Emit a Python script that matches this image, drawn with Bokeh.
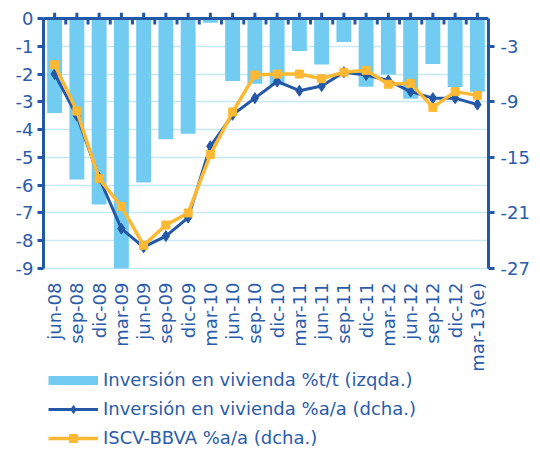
from math import pi
from bokeh.plotting import figure
from bokeh.models import (Range1d, LinearAxis, FixedTicker, Legend, LegendItem,
                          ColumnDataSource, Span)
from bokeh.core.properties import value
from bokeh.embed import file_html
from bokeh.resources import INLINE

categories = ["jun-08", "sep-08", "dic-08", "mar-09", "jun-09", "sep-09", "dic-09",
              "mar-10", "jun-10", "sep-10", "dic-10", "mar-11", "jun-11", "sep-11",
              "dic-11", "mar-12", "jun-12", "sep-12", "dic-12", "mar-13(e)"]
inv_tt = [-3.4, -5.8, -6.7, -9.0, -5.9, -4.35, -4.15, -0.15, -2.25, -2.35,
          -2.4, -1.17, -1.66, -0.85, -2.46, -2.02, -2.89, -1.64, -2.47, -2.64]
inv_aa = [-6.0, -10.5, -17.2, -22.7, -24.7, -23.5, -21.5, -13.8, -10.4, -8.6,
          -6.8, -7.8, -7.3, -5.8, -6.1, -6.7, -7.9, -8.6, -8.6, -9.3]
iscv = [-5.0, -10.0, -17.3, -20.3, -24.5, -22.3, -21.0, -14.7, -10.1, -6.1,
        -6.0, -6.0, -6.5, -5.8, -5.6, -7.1, -7.0, -9.6, -7.9, -8.3]
left_ticks = [0, -1, -2, -3, -4, -5, -6, -7, -8, -9]
right_ticks = [-3, -9, -15, -21, -27]
labels = ["Inversión en vivienda %t/t (izqda.)",
          "Inversión en vivienda %a/a (dcha.)",
          "ISCV-BBVA %a/a (dcha.)"]

BLUE = "#2458A6"
TEXT = "#2A5CAA"
BAR = "#72CCF2"
ORANGE = "#FDB933"
GRID = "#C8E8F6"
FONT = "DejaVu Sans"
FS = "18px"

n = len(categories)
pos = [i + 0.5 for i in range(n)]          # category centres
boundaries = list(range(0, n + 1))         # category edges

# layout: plot area 250px tall; the frame extends above (tick room) and below
# (labels + legend)
W, H, TOP = 532, 448, 12
PLOT_H = 250
TICK_PX = 6
lmin, rmin = left_ticks[-1], right_ticks[-1]
lmax = left_ticks[0]
px_per_unit = PLOT_H / (lmax - lmin)
FRAME_H = H - TOP
tick_u = TICK_PX / px_per_unit
y_hi = lmax + tick_u
y_lo = y_hi - FRAME_H / px_per_unit
ratio = rmin / lmin
r_hi, r_lo = y_hi * ratio, y_lo * ratio

src = ColumnDataSource(dict(x=pos, cat=categories, tt=inv_tt, aa=inv_aa, iscv=iscv,
                            base=[lmin] * n))
tick_src = ColumnDataSource(dict(x=pos, y0=[lmax] * n, y1=[lmax + tick_u] * n))
edge_src = ColumnDataSource(dict(x=boundaries, y0=[lmax] * (n + 1),
                                 y1=[lmax - tick_u] * (n + 1)))

p = figure(width=W, height=H, x_range=Range1d(0, n), y_range=Range1d(y_lo, y_hi),
           output_backend="svg", toolbar_location=None, x_axis_location=None,
           min_border_left=43, min_border_right=41, min_border_top=TOP,
           min_border_bottom=0)
p.outline_line_color = None
p.border_fill_color = "white"
p.background_fill_color = "white"
p.extra_y_ranges = {"right": Range1d(r_lo, r_hi)}

# grid
p.xgrid.grid_line_color = None
p.ygrid.ticker = FixedTicker(ticks=left_ticks)
p.ygrid.grid_line_color = GRID
p.ygrid.grid_line_width = 1.5

# left axis
ya = p.yaxis[0]
ya.bounds = (lmin, lmax)
ya.ticker = FixedTicker(ticks=left_ticks)
ya.major_label_overrides = {t: str(t) for t in left_ticks}
ya.axis_line_color = BLUE
ya.axis_line_width = 3
ya.major_tick_line_color = BLUE
ya.major_tick_line_width = 3
ya.major_tick_in = 0
ya.major_tick_out = 6
ya.minor_tick_line_color = None
ya.major_label_standoff = 4
ya.major_label_text_font = FONT
ya.major_label_text_font_size = FS
ya.major_label_text_color = TEXT

# right axis
ra = LinearAxis(y_range_name="right", bounds=(rmin, 0),
                ticker=FixedTicker(ticks=right_ticks),
                major_label_overrides={t: str(t) for t in right_ticks},
                axis_line_color=BLUE, axis_line_width=3,
                major_tick_line_color=BLUE, major_tick_line_width=3,
                major_tick_in=0, major_tick_out=6, minor_tick_line_color=None,
                major_label_standoff=6, major_label_text_font=FONT,
                major_label_text_font_size=FS, major_label_text_color=TEXT)
p.add_layout(ra, "right")

bars = p.vbar(x="x", top="tt", width=0.67, source=src, fill_color=BAR, line_color=None)

# horizontal category axis at zero, with crossing ticks
p.add_layout(Span(location=lmax, dimension="width", line_color=BLUE, line_width=3))
p.segment(x0="x", y0="y0", x1="x", y1="y1", source=tick_src, line_color=BLUE, line_width=3)
p.segment(x0="x", y0="y0", x1="x", y1="y1", source=edge_src, line_color=BLUE, line_width=3)

l1 = p.line("x", "aa", source=src, y_range_name="right", line_color=BLUE, line_width=3)
s1 = p.scatter("x", "aa", source=src, y_range_name="right", marker="diamond",
               size=11, fill_color=BLUE, line_color=BLUE)
l2 = p.line("x", "iscv", source=src, y_range_name="right", line_color=ORANGE, line_width=3.5)
s2 = p.scatter("x", "iscv", source=src, y_range_name="right", marker="square",
               size=8, fill_color=ORANGE, line_color=ORANGE)

# category labels, vertical, below the plot area
p.text(x="x", y="base", text="cat", source=src, angle=pi / 2, y_offset=14,
       text_align="right", text_baseline="middle", text_font=value(FONT),
       text_font_size=value(FS), text_color=TEXT)

# legend swatch for the bars (a thick line, as in the original legend)
proxy = p.line(x=[float("nan")], y=[float("nan")], line_color=BAR, line_width=9)

legend = Legend(items=[LegendItem(label=labels[0], renderers=[proxy]),
                       LegendItem(label=labels[1], renderers=[l1, s1]),
                       LegendItem(label=labels[2], renderers=[l2, s2])],
                location=(5, 0), orientation="vertical",
                glyph_width=50, glyph_height=20, label_height=20, spacing=8,
                padding=0, margin=0, label_standoff=5,
                label_text_font=FONT, label_text_font_size=FS, label_text_color=TEXT,
                border_line_color=None, background_fill_alpha=0)
p.add_layout(legend, "center")

open("out.html", "w").write(file_html(p, INLINE))
